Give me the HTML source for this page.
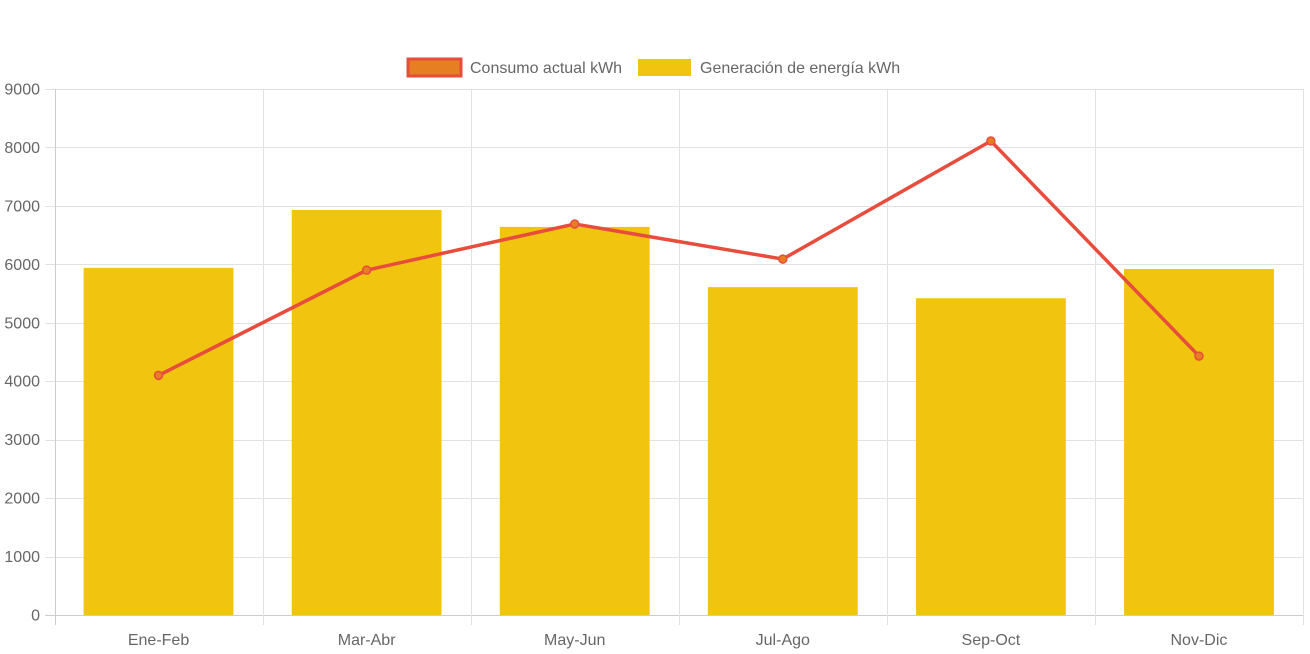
<!DOCTYPE html>
<html><head><meta charset="utf-8"><style>
body{margin:0;background:#fff;}
svg{display:block;font-family:"Liberation Sans",sans-serif;}
</style></head><body>
<svg id="c" width="1310" height="654">
<g>
<rect x="408" y="59" width="53" height="17" fill="#e67e22" stroke="#e74c3c" stroke-width="3"/>
<text x="470" y="73" font-size="16" fill="#666">Consumo actual kWh</text>
<rect x="638" y="59" width="53" height="17" fill="#f1c40f"/>
<text x="700" y="73" font-size="16" fill="#666">Generación de energía kWh</text>
</g>
</svg>
<script>
const categories=["Ene-Feb","Mar-Abr","May-Jun","Jul-Ago","Sep-Oct","Nov-Dic"];
const generacion=[5940,6930,6640,5610,5420,5920];
const consumo=[4100,5900,6690,6090,8110,4430];
const yTicks=[0,1000,2000,3000,4000,5000,6000,7000,8000,9000];
const svg=document.getElementById('c');
const NS='http://www.w3.org/2000/svg';
const L=54.5,R=1303,T=89,B=615,yMax=9000;
const cw=(R-L)/categories.length;
function y(v){return B-(v/yMax)*(B-T);}
function xc(i){return L+cw*(i+0.5);}
function mk(t,a){const e=document.createElementNS(NS,t);for(const k in a)e.setAttribute(k,a[k]);svg.appendChild(e);return e;}
yTicks.forEach(v=>{
 const g=mk('line',{x1:45,x2:R,y1:Math.round(y(v))+0.5,y2:Math.round(y(v))+0.5,stroke:v===0?'#ccc':'#e2e2e2','stroke-width':1});
 
 
 const t=mk('text',{x:40,y:y(v)+5.5,'text-anchor':'end','font-size':16,fill:'#666'});
 t.textContent=v;
 
 
});
for(let i=0;i<=categories.length;i++){
 const x=Math.round(L+cw*i)+0.5;
 const g=mk('line',{x1:x,x2:x,y1:T,y2:625,stroke:i===0?'#ccc':'#e2e2e2','stroke-width':1});
 
 
}
const bw=cw*0.72;
generacion.forEach((v,i)=>{
 const r=mk('rect',{x:xc(i)-bw/2,y:y(v),width:bw,height:B-y(v),fill:'#f1c40f'});
 
 
});
categories.forEach((c,i)=>{
 const t=mk('text',{x:xc(i),y:645,'text-anchor':'middle','font-size':16,fill:'#666'});
 t.textContent=c;
 
 
});
const pl=mk('polyline',{points:consumo.map((v,i)=>xc(i)+','+y(v)).join(' '),fill:'none',stroke:'#e74c3c','stroke-width':3.5,'stroke-linejoin':'miter'});


consumo.forEach((v,i)=>{
 const p=mk('circle',{cx:xc(i),cy:y(v),r:4,fill:'#e67e22',stroke:'#e74c3c','stroke-width':1.5});
 
 
});
</script>
</body></html>
